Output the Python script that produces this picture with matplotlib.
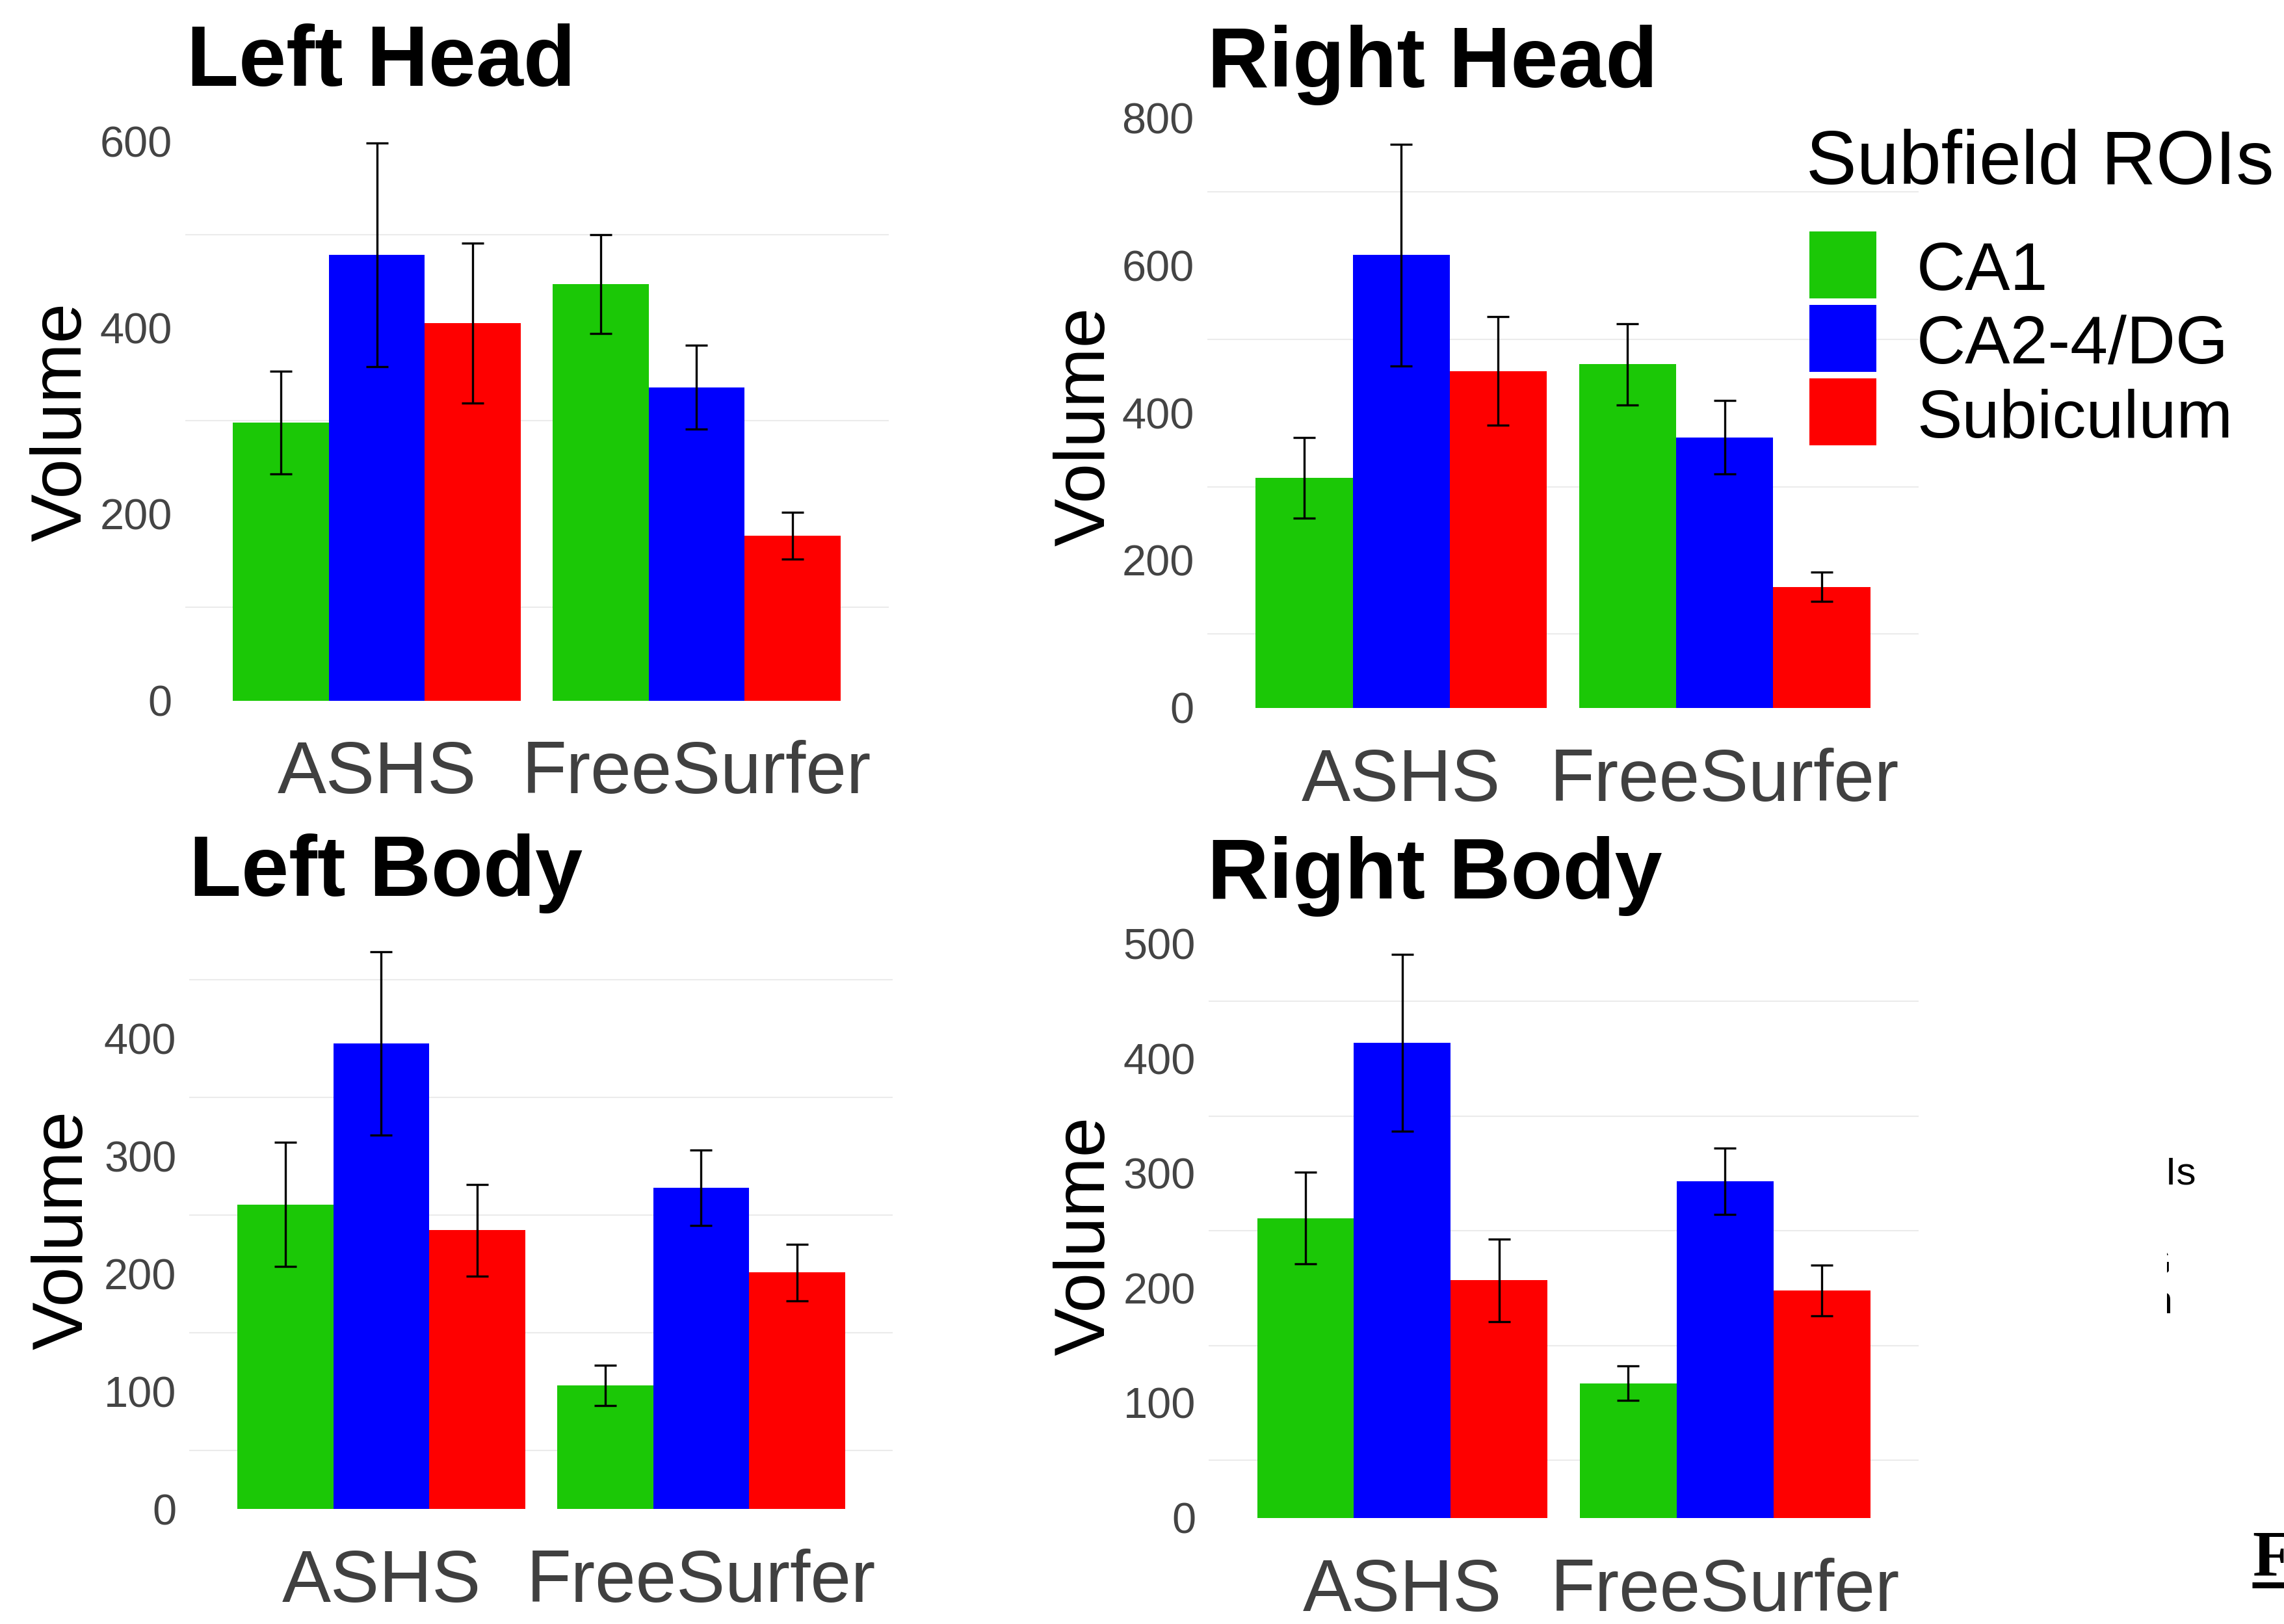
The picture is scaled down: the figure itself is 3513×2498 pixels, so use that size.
import numpy as np
import matplotlib.pyplot as plt
from matplotlib.patches import Rectangle
from matplotlib.lines import Line2D

plt.rcParams['font.family'] = ['Liberation Sans', 'DejaVu Sans']

W, H, DPI = 3513, 2498, 300

methods = ["ASHS", "FreeSurfer"]
subfields = ["CA1", "CA2-4/DG", "Subiculum"]
colors = ["#1BC806", "#0000FE", "#FE0000"]

# rows = subfields, columns = methods
left_head_mean = [[298, 447], [478, 336], [405, 177]]
left_head_err = [[55, 53], [120, 45], [86, 25]]
right_head_mean = [[312, 466], [614, 367], [457, 164]]
right_head_err = [[55, 55], [150, 50], [74, 20]]
left_body_mean = [[259, 105], [396, 273], [237, 201]]
left_body_err = [[53, 17], [78, 32], [39, 24]]
right_body_mean = [[261, 117], [414, 293], [207, 198]]
right_body_err = [[40, 15], [77, 29], [36, 22]]

left_head_ticks = [0, 200, 400, 600]
right_head_ticks = [0, 200, 400, 600, 800]
left_body_ticks = [0, 100, 200, 300, 400]
right_body_ticks = [0, 100, 200, 300, 400, 500]


def fx(x):
    return x / W


def fy(y):
    return 1 - y / H


def draw_panel(fig, title, mean, err, ticks, layout):
    # layout in pixels: x of 0.4, x of 2.6, y of 0, y of last tick, title pos, ylabel x
    xa, xb, y0, yref, tx, ty, lx = layout
    mean = np.array(mean)
    err = np.array(err)
    top = (mean + err).max()
    lo, hi = -0.05 * top, 1.05 * top
    ppu = (y0 - yref) / ticks[-1]
    top_px = y0 - hi * ppu
    bot_px = y0 - lo * ppu
    ax = fig.add_axes([fx(xa), fy(bot_px), (xb - xa) / W, (bot_px - top_px) / H])

    x = np.arange(1, len(methods) + 1)
    w = 0.3
    for i, name in enumerate(subfields):
        pos = x + (i - 1) * w
        ax.bar(pos, mean[i], width=w, color=colors[i], label=name, zorder=2)
        ax.errorbar(pos, mean[i], yerr=err[i], fmt='none', ecolor='black',
                    elinewidth=0.8, capsize=4, capthick=0.8, zorder=3)

    ax.set_xlim(0.4, 2.6)
    ax.set_ylim(lo, hi)
    ax.set_xticks(x)
    ax.set_xticklabels(methods, fontsize=27, color='#404040')
    ax.set_yticks(ticks)
    ax.set_yticklabels([str(t) for t in ticks], fontsize=16, color='#444444')
    step = ticks[1] - ticks[0]
    minor = [t + step / 2 for t in ticks if t + step / 2 < hi]
    ax.set_yticks(minor, minor=True)
    ax.grid(False)
    ax.grid(True, which='minor', axis='y', color='#EBEBEB', linewidth=0.5, zorder=0)
    ax.tick_params(axis='both', which='both', length=0)
    ax.tick_params(axis='x', pad=4.3)
    ax.tick_params(axis='y', pad=4.8)
    for s in ax.spines.values():
        s.set_visible(False)

    fig.text(fx(tx), fy(ty), title, fontsize=31.5, fontweight='bold', va='baseline', ha='left')
    fig.text(fx(lx), fy((top_px + bot_px) / 2), "Volume", fontsize=26.5, rotation=90,
             va='center', ha='center')
    return ax


fig = plt.figure(figsize=(W / DPI, H / DPI), dpi=DPI)

draw_panel(fig, "Left Head", left_head_mean, left_head_err, left_head_ticks,
           (284.5, 1366.6, 1077.6, 217.3, 287, 132, 97))
draw_panel(fig, "Right Head", right_head_mean, right_head_err, right_head_ticks,
           (1856.6, 2951.3, 1088.8, 181.5, 1857, 134, 1671))
draw_panel(fig, "Left Body", left_body_mean, left_body_err, left_body_ticks,
           (291.3, 1373.4, 2321.1, 1597.4, 291, 1378, 99))
draw_panel(fig, "Right Body", right_body_mean, right_body_err, right_body_ticks,
           (1859.1, 2951.1, 2334.5, 1451.8, 1857, 1382, 1671))

# legend
fig.text(fx(2778), fy(283), "Subfield ROIs", fontsize=28, va='baseline', ha='left')
key_tops = [356, 469, 582]
for i, name in enumerate(subfields):
    fig.add_artist(Rectangle((fx(2783), fy(key_tops[i] + 103)), 103 / W, 103 / H,
                             transform=fig.transFigure, facecolor=colors[i], edgecolor='none'))
    fig.text(fx(2948), fy(key_tops[i] + 90), name, fontsize=25, va='baseline', ha='left')

# stray legend remnant peeking out behind the white area
fig.text(fx(3377), fy(1821), "Subfield ROIs", fontsize=14.5, va='baseline', ha='right', zorder=5)
fig.text(fx(3341), fy(1961), "CA2-4/DG", fontsize=14.5, va='baseline', ha='right', zorder=5)
fig.text(fx(3342), fy(2020), "Subiculum", fontsize=14.5, va='baseline', ha='right', zorder=5)
fig.add_artist(Rectangle((fx(2965), fy(2100)), (3333 - 2965) / W, 450 / H,
                         transform=fig.transFigure, facecolor='white', edgecolor='none', zorder=10))

# clipped caption at the bottom right corner
fig.text(fx(3464), fy(2423), "Fig", fontsize=24, fontweight='bold',
         family=['Liberation Serif', 'DejaVu Serif'], va='baseline', ha='left')
fig.add_artist(Line2D([fx(3464), 1.0], [fy(2437.5), fy(2437.5)], transform=fig.transFigure,
                      color='black', linewidth=2.2, solid_capstyle='butt'))

fig.savefig("out.png", dpi=DPI, facecolor='white')
